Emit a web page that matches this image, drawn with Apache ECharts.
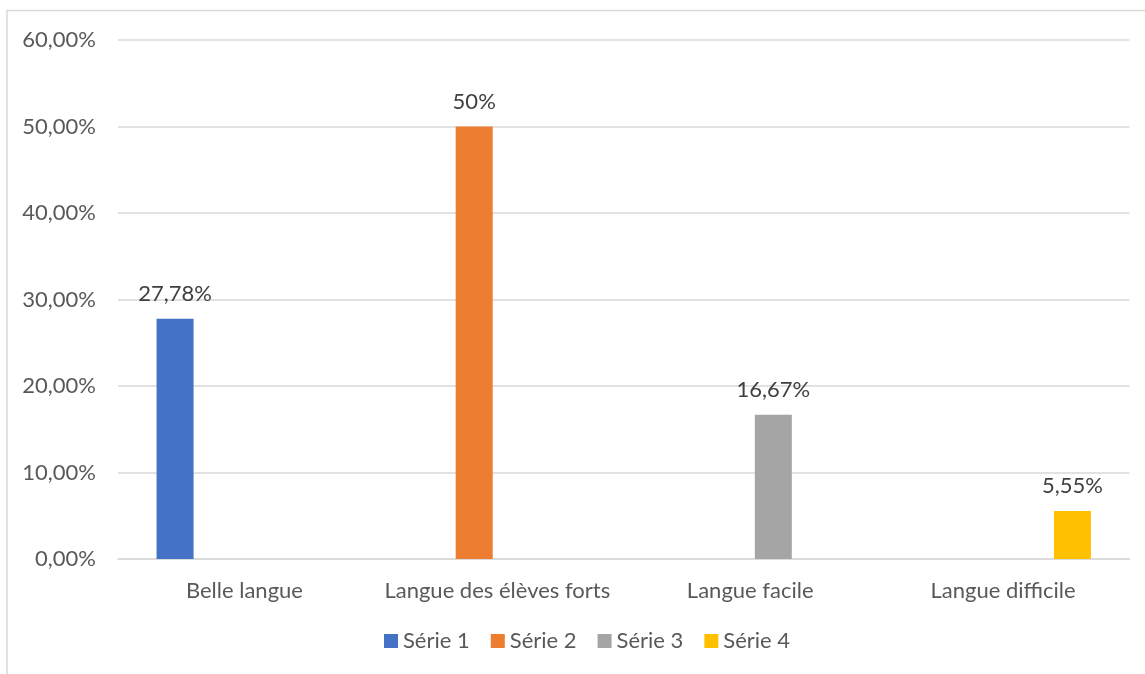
<!DOCTYPE html>
<html>
<head>
<meta charset="utf-8">
<script src="https://cdn.jsdelivr.net/npm/echarts@6/dist/echarts.min.js"></script>
<style>
html,body{margin:0;padding:0;background:#fff;}
#chart{width:1145px;height:674px;}
</style>
</head>
<body>
<div id="chart"></div>
<script>
const categories = ['Belle langue', 'Langue des élèves forts', 'Langue facile', 'Langue difficile'];
const seriesNames = ['Série 1', 'Série 2', 'Série 3', 'Série 4'];
const serie1 = [27.78, null, null, null];
const serie2 = [null, 50, null, null];
const serie3 = [null, null, 16.67, null];
const serie4 = [null, null, null, 5.55];
const labelTexts = ['27,78%', '50%', '16,67%', '5,55%'];
const colors = ['#4472C4', '#ED7D31', '#A5A5A5', '#FFC000'];
const yTicks = {min: 0, max: 60, interval: 10};

const seriesData = [serie1, serie2, serie3, serie4];
const FONT = 'Lato';
const FS = 22;
const chart = echarts.init(document.getElementById('chart'));
chart.setOption({
  animation: false,
  backgroundColor: '#fff',
  graphic: [{
    type: 'rect',
    shape: {x: 7, y: 10.5, width: 1300, height: 900},
    style: {fill: 'none', stroke: '#D9D9D9', lineWidth: 1.5},
    silent: true
  }],
  grid: {left: 118, right: 15.5, top: 40, bottom: 115, containLabel: false},
  legend: {
    data: seriesNames,
    left: 384,
    top: 630,
    padding: 0,
    itemWidth: 14,
    itemHeight: 14,
    itemGap: 21,
    icon: 'rect',
    textStyle: {fontFamily: FONT, fontSize: FS, color: '#595959'}
  },
  xAxis: {
    type: 'category',
    data: categories,
    axisLine: {show: true, lineStyle: {color: '#D9D9D9', width: 1.5}},
    axisTick: {show: false},
    axisLabel: {fontFamily: FONT, fontSize: FS, color: '#595959', margin: 21, interval: 0}
  },
  yAxis: {
    type: 'value',
    min: yTicks.min, max: yTicks.max, interval: yTicks.interval,
    axisLine: {show: false},
    axisTick: {show: false},
    splitLine: {lineStyle: {color: '#D9D9D9', width: 1.5}},
    axisLabel: {
      fontFamily: FONT, fontSize: FS, color: '#595959', margin: 22,
      formatter: v => v.toFixed(2).replace('.', ',') + '%'
    }
  },
  series: seriesData.map((d, i) => ({
    name: seriesNames[i],
    type: 'bar',
    data: d,
    barWidth: 37,
    barGap: '25%',
    itemStyle: {color: colors[i]},
    label: {
      show: true,
      position: 'top',
      distance: 14,
      fontFamily: FONT,
      fontSize: FS,
      color: '#404040',
      formatter: () => labelTexts[i]
    }
  }))
});
</script>
</body>
</html>
